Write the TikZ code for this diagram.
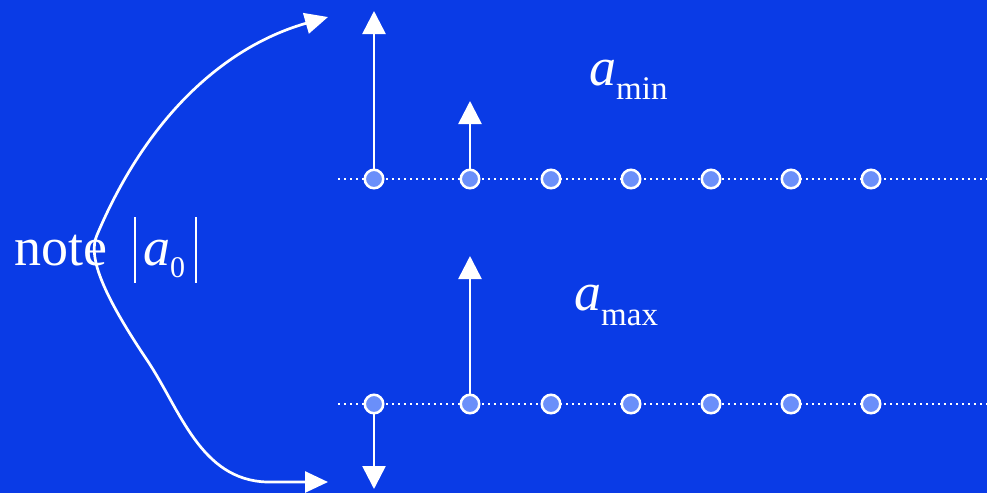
\documentclass[tikz,border=0pt]{standalone}
\usepackage{fontspec}
\setmainfont{Liberation Serif}
\usetikzlibrary{arrows.meta}
\definecolor{bgblue}{RGB}{10,59,230}
\definecolor{dotfill}{RGB}{106,143,250}
\tikzset{
  dotnode/.style={circle,draw=white,line width=2.5pt,fill=dotfill,minimum size=18.5pt,inner sep=0pt},
  axisline/.style={white,line width=2.6pt,dash pattern=on 2.4pt off 3.6pt},
  vecarrow/.style={white,line width=2.6pt,-{Triangle[length=23pt,width=23pt]}},
  curvearrow/.style={white,line width=2.7pt,{Triangle[length=23pt,width=21pt]}-{Triangle[length=23pt,width=21pt]}},
  bigtext/.style={text=white,inner sep=0pt,font=\fontsize{54}{54}\selectfont,anchor=base west}
}
\begin{document}
\begin{tikzpicture}[x=1pt,y=-1pt]
\fill[bgblue] (0,0) rectangle (987,493);
\useasboundingbox (0,0) rectangle (987,493);
% axes
\coordinate (ta) at (338,179);
\coordinate (tb) at (987,179);
\coordinate (ba) at (338,404);
\coordinate (bb) at (987,404);
\draw[axisline] (ta) -- (tb);
\draw[axisline] (ba) -- (bb);
% arrow tips
\coordinate (t1tip) at (374,11);
\coordinate (t2tip) at (470,101);
\coordinate (b2tip) at (470,256);
\coordinate (b1tip) at (374,489);
\draw[vecarrow] (374,179) -- (t1tip);
\draw[vecarrow] (470,179) -- (t2tip);
\draw[vecarrow] (470,404) -- (b2tip);
\draw[vecarrow] (374,404) -- (b1tip);
% dots
\foreach \x [count=\i] in {374,470,551,631,711,791,871}{
  \node[dotnode] (t\i) at (\x,179) {};
  \node[dotnode] (b\i) at (\x,404) {};
}
% curved double arrow
\coordinate (ctop) at (328,17);
\coordinate (cbot) at (328,482);
\draw[curvearrow] (ctop) .. controls (230,45) and (150,110) .. (97,235)
  .. controls (88,255) and (100,290) .. (147,360)
  .. controls (180,409) and (200,480) .. (267,482) -- (cbot);
% texts
\node[bigtext] (note) at (14,265) {note};
\node[bigtext] (a0) at (143,265) {\textit{a}\raisebox{-12pt}{\fontsize{30}{30}\selectfont 0}};
\coordinate (l1a) at (135,217); \coordinate (l1b) at (135,283);
\coordinate (l2a) at (196,217); \coordinate (l2b) at (196,283);
\draw[white,line width=2pt] (l1a) -- (l1b);
\draw[white,line width=2pt] (l2a) -- (l2b);
\node[bigtext] (amin) at (589,85) {\textit{a}\raisebox{-14pt}{\fontsize{33}{33}\selectfont min}};
\node[bigtext] (amax) at (574,310) {\textit{a}\raisebox{-15pt}{\fontsize{33}{33}\selectfont max}};
\end{tikzpicture}
\end{document}
